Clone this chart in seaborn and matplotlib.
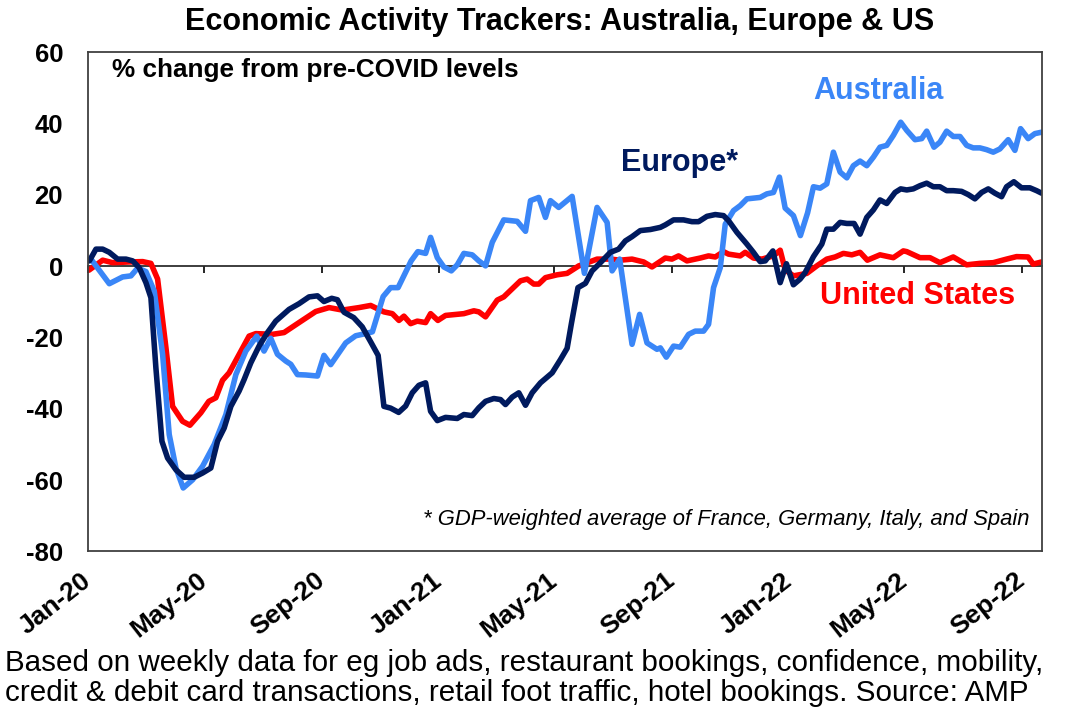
import pandas as pd
import matplotlib
matplotlib.use("Agg")
import matplotlib.pyplot as plt
import matplotlib.dates as mdates
import seaborn as sns

# weekly trackers: days after 1 Jan 2020 and % change from pre-COVID levels
start = pd.Timestamp("2020-01-01")

us_days = [1, 15.3, 25.7, 42.7, 57, 65.6, 72.6, 81.3, 88.2, 98.6, 106.3, 117.7, 126, 133.3, 140.3,
           147.2, 168, 175, 192.4, 204.5, 220.1, 237.5, 251.4, 265.3, 282.6, 294.8, 308.6, 317.4,
           324.3, 329.5, 336.5, 343.4, 352.1, 357.3, 364.9, 372.9, 392, 402.4, 407.6, 414.6, 426.8,
           433.6, 451, 458, 464.9, 470.1, 477.1, 489.3, 499.7, 511.8, 517, 530.9, 544.8, 555.2,
           567.4, 579.5, 588.2, 602.1, 609, 615.9, 624.7, 638.5, 647.2, 654.2, 662.8, 668, 680.2,
           685.4, 694, 702.8, 714.9, 721.9, 727.1, 735.7, 749.7, 760.1, 770.5, 779.2, 787.8, 796.6,
           805.2, 812.8, 826, 839.9, 850.3, 853.9, 867.7, 878.1, 888.5, 902.4, 916.4, 930.2, 944.1,
           958, 968.4, 980.5, 985.7, 994.5]
us_vals = [-1.1, 1.7, 1.0, 1.2, 1.3, 0.8, -3.6, -22.9, -39.3, -43.5, -44.6, -41.1, -37.9, -36.9, -32.0,
           -29.9, -19.6, -18.9, -19.1, -18.6, -15.8, -12.7, -11.6, -12.3, -11.6, -11.0, -12.8, -13.3,
           -15.2, -14.0, -16.1, -15.4, -15.8, -13.3, -15.2, -13.8, -13.3, -12.5, -12.8, -14.2, -9.5,
           -8.6, -4.1, -3.6, -5.0, -5.0, -3.2, -2.4, -2.0, 0.1, 0.6, 2.0, 2.0, 1.7,
           2.0, 1.2, -0.2, 2.3, 2.0, 2.9, 1.5, 2.3, 2.9, 2.6, 4.1, 3.4, 2.9,
           3.9, 2.3, 2.0, 2.9, 4.5, -1.0, -2.7, -2.0, 0.1, 2.0, 2.6, 3.6, 3.2,
           3.9, 1.7, 3.2, 2.4, 4.3, 4.1, 2.4, 2.4, 1.0, 2.6, 0.4, 0.8, 1.0,
           2.0, 2.7, 2.6, 0.6, 1.2]

aus_days = [3.1, 22.2, 36.1, 44.8, 51.8, 60.4, 69.1, 77.8, 84.7, 91.7, 99.3, 109.1, 119.5, 131.6,
            143.8, 154.2, 164.6, 176, 183.6, 190.6, 197.6, 206.3, 211.5, 218.4, 227.1, 239.3, 246.1,
            253.1, 268.8, 279.2, 287.8, 296.6, 307.8, 315.6, 323.4, 337, 344, 352.1, 357.3, 364.3,
            371.1, 378.9, 385.1, 392, 400.7, 407.6, 414.6, 421.6, 433.6, 447.6, 456.3, 461.5, 470.1,
            477.1, 482.3, 490.9, 504.9, 517.7, 530.9, 541.4, 546.6, 554.5, 567.4, 575.3, 583, 593.4,
            596.9, 603.1, 610.7, 617.7, 626.4, 633.3, 642, 647.2, 652.4, 659.4, 664.6, 673.2, 680.2,
            687.2, 701, 708, 714.9, 721.1, 727.1, 735.7, 743, 750.5, 756.6, 763.5, 770.5, 777.4,
            784.4, 791.4, 798.2, 805.2, 812.2, 819.1, 826, 833, 839.9, 847.6, 853.9, 862.5, 869.5,
            874.7, 882.3, 888.5, 895.5, 902.4, 909.4, 916.4, 923.2, 930.2, 937.2, 944.1, 951, 959.7,
            966.7, 972.6, 980.5, 987.5, 994.5]
aus_vals = [2.0, -4.9, -3.0, -2.7, -0.5, -1.5, -7.0, -24.7, -47.2, -56.6, -62.2, -59.9, -56.1, -50.0,
            -41.6, -30.4, -23.8, -19.6, -23.8, -20.2, -24.7, -26.6, -27.5, -30.4, -30.5, -30.8, -25.0,
            -27.6, -21.5, -19.5, -19.0, -18.4, -8.5, -6.0, -6.0, 1.5, 4.1, 3.6, 8.1, 2.4,
            -0.2, -1.3, 0.4, 3.6, 3.2, 1.5, 0.1, 6.7, 13.0, 12.6, 9.8, 18.4, 19.3,
            13.7, 18.4, 16.5, 19.6, -2.0, 16.5, 12.3, -1.3, 2.0, -21.9, -13.5, -21.5, -23.3,
            -22.9, -25.5, -22.4, -22.7, -19.1, -18.2, -18.2, -16.3, -6.0, -0.4, 11.8, 15.6, 17.0,
            18.9, 19.3, 20.3, 20.7, 25.0, 16.3, 14.2, 8.6, 15.0, 22.3, 21.9, 23.1, 32.0,
            26.4, 24.8, 28.2, 29.5, 28.2, 30.6, 33.4, 33.9, 36.7, 40.4, 38.1, 35.5, 35.8,
            37.9, 33.4, 34.8, 37.9, 36.4, 36.4, 33.9, 33.2, 33.2, 32.7, 32.0, 32.9, 35.5,
            32.5, 38.6, 35.8, 37.2, 37.6]

eur_days = [1.4, 8.3, 15.3, 22.2, 30.9, 39.6, 46.6, 53.4, 60.4, 65.6, 70.8, 77.1, 83, 91.7, 100.3,
            110.7, 119.5, 128.1, 135.1, 142, 149, 157.6, 162.8, 169.8, 178.4, 187.2, 195.8, 209.7,
            220.1, 230.5, 239.3, 246.1, 254.2, 260.1, 267, 277.1, 286, 294.8, 302.6, 308.6, 315.6,
            324, 331.3, 338.2, 345.1, 352.1, 357.3, 364.3, 372.9, 385.1, 392, 400.7, 407.6, 414.6,
            423.2, 430.2, 435.4, 442.4, 449.3, 456.3, 463.2, 471.9, 484.1, 492.7, 499.7, 504.2, 511,
            518.8, 525.7, 534.4, 544.8, 553.4, 560.4, 567.4, 576, 586.5, 596.9, 602.1, 610.7, 621.1,
            629.9, 636.8, 645.5, 654.2, 662.8, 668, 676.8, 687.2, 694, 701, 706.3, 714.3, 721.9,
            728.4, 735.7, 742.7, 747.9, 756.6, 765.3, 770.5, 777.4, 784.4, 791.4, 799, 805.2, 812.2,
            819.1, 826, 833, 841.7, 847.6, 853.9, 860.7, 867.7, 874.7, 881.6, 888.5, 895.5, 902.4,
            911.1, 918, 925, 932, 938.9, 945.8, 952.8, 958, 965.6, 973.6, 982.3, 989.3, 994.5]
eur_vals = [1.5, 4.8, 4.8, 3.9, 2.0, 2.0, 1.5, -0.4, -4.6, -8.8, -28.5, -49.1, -53.8, -57.1, -59.2,
            -59.2, -58.0, -56.6, -49.1, -45.4, -39.3, -35.0, -31.8, -27.1, -22.4, -18.6, -15.4, -12.1,
            -10.5, -8.6, -8.3, -9.9, -9.0, -9.4, -12.9, -14.4, -17.0, -21.2, -25.0, -39.3, -39.8,
            -41.0, -39.2, -35.5, -33.4, -32.7, -40.7, -43.3, -42.4, -42.7, -41.6, -41.9, -39.7, -37.9,
            -37.1, -37.4, -38.8, -36.7, -35.5, -39.0, -35.5, -32.7, -29.9, -26.2, -23.0, -16.0, -6.0,
            -4.8, -1.3, 1.0, 3.9, 4.8, 7.1, 8.3, 10.0, 10.3, 10.9, 11.6, 13.0, 13.0,
            12.5, 12.5, 14.0, 14.5, 14.2, 12.8, 9.5, 6.2, 3.9, 1.3, 1.5, 4.3, -4.6,
            0.7, -5.2, -3.6, -1.8, 2.7, 6.2, 10.4, 10.4, 12.3, 12.0, 12.0, 9.0, 13.7,
            15.8, 18.6, 17.6, 20.7, 21.7, 21.4, 21.7, 22.6, 23.3, 22.3, 22.3, 21.2, 21.2,
            21.0, 20.1, 18.9, 20.7, 21.7, 20.5, 19.5, 22.3, 23.7, 22.0, 22.0, 21.2, 20.5]

series_names = ["United States", "Australia", "Europe"]
colors = {"United States": "#FF0000", "Australia": "#3A86F7", "Europe": "#001A5E"}
tick_dates = pd.date_range("2020-01-01", "2022-09-01", freq="4MS")

frames = []
for name, days, vals in zip(series_names, [us_days, aus_days, eur_days], [us_vals, aus_vals, eur_vals]):
    frames.append(pd.DataFrame({
        "date": start + pd.to_timedelta(days, unit="D"),
        "value": vals,
        "series": name,
    }))
df = pd.concat(frames, ignore_index=True)

sns.set_theme(style="white")
plt.rcParams["font.family"] = ["Liberation Sans", "DejaVu Sans"]
plt.rcParams["axes.unicode_minus"] = False

fig = plt.figure(figsize=(10.68, 7.27), dpi=100)
ax = fig.add_axes([0.0824, 0.2415, 0.8933, 0.6865])

sns.lineplot(data=df, x="date", y="value", hue="series", hue_order=series_names,
             palette=colors, estimator=None, sort=False, linewidth=4, legend=False, ax=ax)

ymin, ymax = -80, 60
ax.set_ylim(ymin, ymax)
ax.set_yticks(range(ymin, ymax + 1, 20))
ax.set_xlim(start, start + pd.Timedelta(days=995))
ax.set_xticks(tick_dates)
ax.xaxis.set_major_formatter(mdates.DateFormatter("%b-%y"))
ax.set_xlabel("")
ax.set_ylabel("")

ax.tick_params(axis="y", length=0, pad=18, labelsize=18.5, labelcolor="black")
ax.tick_params(axis="x", length=0, pad=19, labelsize=19, labelcolor="black")
for lab in ax.get_xticklabels():
    lab.set_rotation(38)
    lab.set_ha("right")
    lab.set_va("center")
    lab.set_rotation_mode("anchor")
for lab in ax.get_xticklabels() + ax.get_yticklabels():
    lab.set_fontweight("bold")

for sp in ax.spines.values():
    sp.set_visible(True)
    sp.set_color("#404040")
    sp.set_linewidth(1.3)

# zero line with the date tick marks on it
zero_axis = ax.secondary_xaxis((0 - ymin) / (ymax - ymin))
zero_axis.set_xticks(tick_dates)
zero_axis.set_xticklabels([])
zero_axis.xaxis.set_ticks_position("bottom")
zero_axis.tick_params(axis="x", direction="out", length=5, width=1.2, color="black")
zero_axis.spines["bottom"].set_color("black")
zero_axis.spines["bottom"].set_linewidth(1.2)

ax.text(0.025, 0.965, "% change from pre-COVID levels", transform=ax.transAxes,
        ha="left", va="center", fontsize=18.8, fontweight="bold", color="black")
ax.text(0.828, 0.922, "Australia", transform=ax.transAxes, ha="center", va="center",
        fontsize=22, fontweight="bold", color=colors["Australia"])
ax.text(0.6205, 0.779, "Europe*", transform=ax.transAxes, ha="center", va="center",
        fontsize=22, fontweight="bold", color=colors["Europe"])
ax.text(0.870, 0.512, "United States", transform=ax.transAxes, ha="center", va="center",
        fontsize=22, fontweight="bold", color=colors["United States"])
ax.text(0.987, 0.064, "* GDP-weighted average of France, Germany, Italy, and Spain",
        transform=ax.transAxes, ha="right", va="center", fontsize=15.8, style="italic",
        color="black")

fig.text(0.524, 0.970, "Economic Activity Trackers: Australia, Europe & US",
         ha="center", va="center", fontsize=22, fontweight="bold", color="black")
fig.text(0.005, 0.107,
         "Based on weekly data for eg job ads, restaurant bookings, confidence, mobility,\n"
         "credit & debit card transactions, retail foot traffic, hotel bookings. Source: AMP",
         ha="left", va="top", fontsize=21.3, linespacing=1.08, color="black")

fig.savefig("out.png", dpi=100)
